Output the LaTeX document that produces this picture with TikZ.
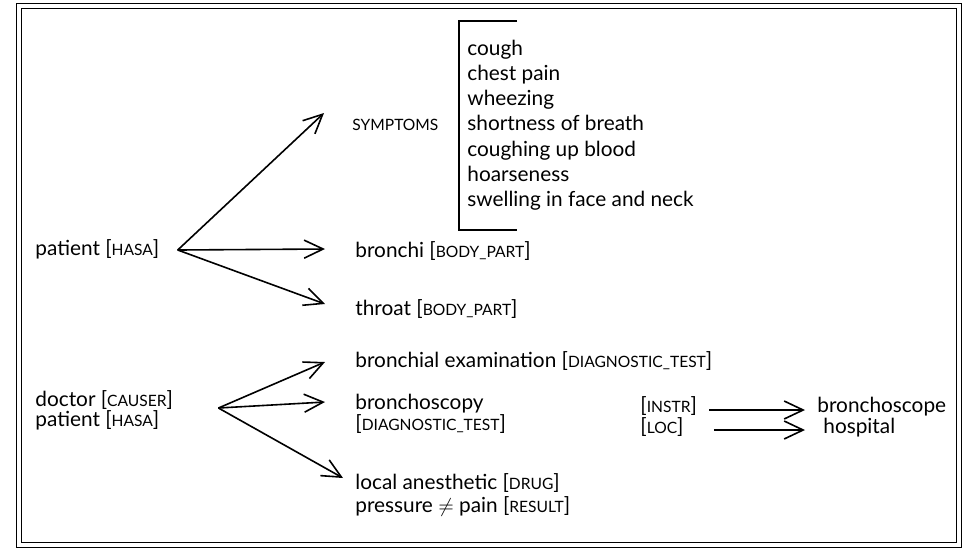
\documentclass[tikz,border=0pt]{standalone}
\usepackage{fontspec}
\setmainfont{Lato}
\usetikzlibrary{arrows.meta,positioning}
\newcommand{\lbl}[1]{{\fontsize{7.8}{9}\selectfont #1}}

\begin{document}
\begin{tikzpicture}[x=0.5pt,y=-0.5pt,
  txt/.style={anchor=west,inner sep=0pt,font=\fontsize{10.4}{12}\selectfont,text height=7pt,text depth=2pt},
  arr/.style={line width=0.8pt,-{Straight Barb[length=9.5pt,width=9pt,line width=0.8pt]}}]
\useasboundingbox (0,0) rectangle (963,548);
\draw[line width=0.6pt,double,double distance=2.2pt] (19,6) rectangle (959,545);
% patient branch
\node[txt] (pat) at (35,250) {patient [\lbl{HASA}]};
\node[txt] (symp) at (352,125) {\lbl{SYMPTOMS}};
\foreach \w [count=\i] in {cough,chest pain,wheezing,shortness of breath,coughing up blood,hoarseness,swelling in face and neck}
  \node[txt] (sym\i) at (467,{50+25.3*(\i-1)}) {\w};
\draw[line width=0.8pt] (517,21) -- (459,21) -- (459,230) -- (517,230);
\node[txt] (bron) at (355,252) {bronchi [\lbl{BODY\_PART}]};
\node[txt] (thr) at (355,310) {throat [\lbl{BODY\_PART}]};
\draw[arr] ([xshift=9]pat.east) -- ([shift={(-28,-12)}]symp.west);
\draw[arr] ([xshift=9]pat.east) -- ([shift={(-30,-3)}]bron.west);
\draw[arr] ([xshift=9]pat.east) -- ([shift={(-30,-6)}]thr.west);
% doctor branch
\node[txt] (exam) at (355,362) {bronchial examination [\lbl{DIAGNOSTIC\_TEST}]};
\node[txt] (doc) at (35,401) {doctor [\lbl{CAUSER}]};
\node[txt] (pat2) at (35,421) {patient [\lbl{HASA}]};
\node[txt] (scopy) at (355,404) {bronchoscopy};
\node[txt] (diag) at (355,425) {[\lbl{DIAGNOSTIC\_TEST}]};
\node[txt] (anest) at (355,484) {local anesthetic [\lbl{DRUG}]};
\node[txt] (press) at (355,507) {pressure $\neq$ pain [\lbl{RESULT}]};
\draw[arr] ([shift={(45,7)}]doc.east) -- ([shift={(-30,0)}]exam.west);
\draw[arr] ([shift={(45,7)}]doc.east) -- ([shift={(-30,-2)}]scopy.west);
\draw[arr] ([shift={(45,7)}]doc.east) -- ([shift={(-12,-6)}]anest.west);
% instrument and location
\node[txt] (instr) at (640,407) {[\lbl{INSTR}]};
\node[txt] (loc) at (640,428) {[\lbl{LOC}]};
\node[txt] (scope) at (817,407) {bronchoscope};
\node[txt] (hosp) at (823,428) {hospital};
\draw[arr] ([shift={(12,3)}]instr.east) -- ([shift={(-12,3)}]scope.west);
\draw[arr] ([shift={(30,2)}]loc.east) -- ([shift={(-18,2)}]hosp.west);
\end{tikzpicture}
\end{document}
